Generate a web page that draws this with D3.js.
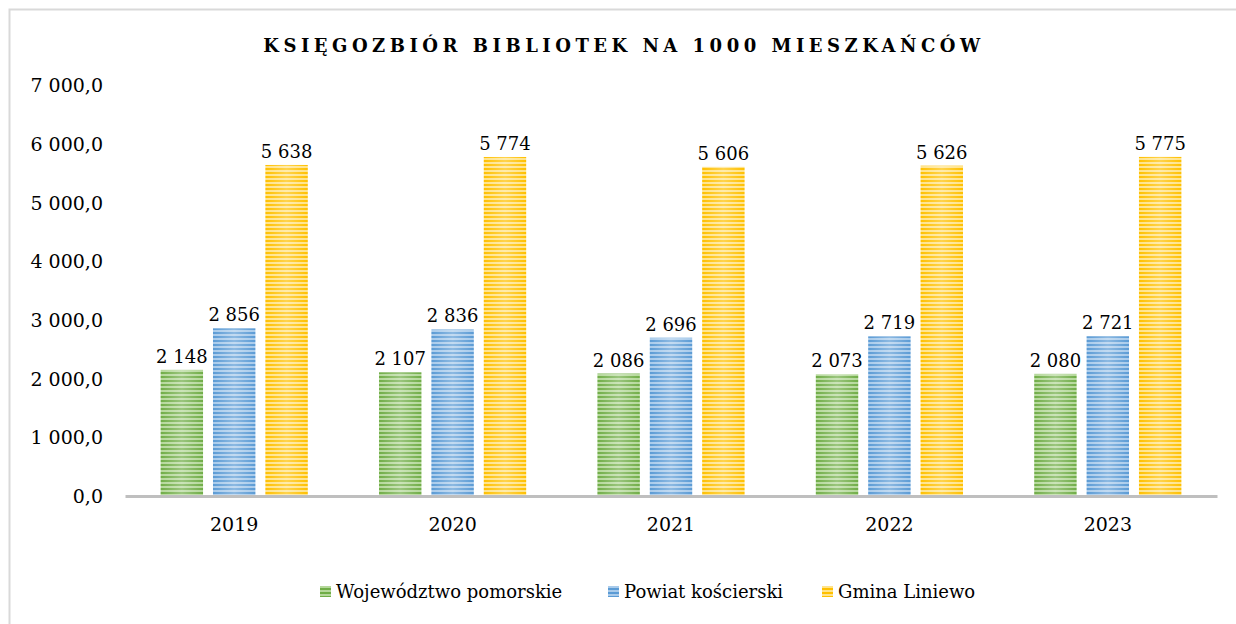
<!DOCTYPE html>
<html>
  <head>
    <meta charset="utf-8" />
    <script src="https://cdn.jsdelivr.net/npm/d3@7"></script>
    <style>
        body { margin: 0; background: #fff; }
        text { font-family: "DejaVu Serif", serif; fill: #000; }
        .title { font-weight: bold; letter-spacing: 4.5px; }
    </style>
  </head>
  <body>
    <script type="text/javascript">

        // chart data
        var years = ["2019", "2020", "2021", "2022", "2023"];
        var seriesNames = ["Województwo pomorskie", "Powiat kościerski", "Gmina Liniewo"];
        var wojewodztwo = [2148, 2107, 2086, 2073, 2080];
        var powiat = [2856, 2836, 2696, 2719, 2721];
        var gmina = [5638, 5774, 5606, 5626, 5775];
        var yTicks = [0, 1000, 2000, 3000, 4000, 5000, 6000, 7000];
        var colors = ["#70ad47", "#5b9bd5", "#ffc000"];
        var lights = ["#b5d89b", "#a9cbeb", "#ffe38a"];

        var series = [wojewodztwo, powiat, gmina];

        var width = 1236, height = 624;
        var plotLeft = 125, plotRight = 1217, plotTop = 85, plotBottom = 496;

        var pl = d3.formatLocale({decimal: ",", thousands: " ", grouping: [3]});
        var fTick = pl.format(",.1f"), fVal = pl.format(",d");

        var svg = d3.select("body").append("svg")
            .attr("width", width)
            .attr("height", height);

        var defs = svg.append("defs");

        // striped fill like the original chart
        colors.forEach(function(c, i) {
            var p = defs.append("pattern")
                .attr("id", "stripe" + i)
                .attr("patternUnits", "userSpaceOnUse")
                .attr("width", 8)
                .attr("height", 4);
            p.append("rect").attr("width", 8).attr("height", 4).attr("fill", c);
            p.append("rect").attr("y", 2).attr("width", 8).attr("height", 2).attr("fill", lights[i]);
        });

        var grad = defs.append("linearGradient").attr("id", "shine");
        grad.append("stop").attr("offset", "0%").attr("stop-color", "#fff").attr("stop-opacity", 0);
        grad.append("stop").attr("offset", "50%").attr("stop-color", "#fff").attr("stop-opacity", 0.3);
        grad.append("stop").attr("offset", "100%").attr("stop-color", "#fff").attr("stop-opacity", 0);

        // border
        svg.append("rect")
            .attr("x", 9.5).attr("y", 9.5)
            .attr("width", 1240).attr("height", 640)
            .attr("fill", "none")
            .attr("stroke", "#d9d9d9")
            .attr("stroke-width", 2);

        var x = d3.scaleBand().domain(years).range([plotLeft, plotRight]);
        var x1 = d3.scaleBand().domain([0, 1, 2]).range([0, x.bandwidth()]).paddingInner(0.19).paddingOuter(0.68);
        var y = d3.scaleLinear().domain([0, 7000]).range([plotBottom, plotTop]);

        svg.append("text")
            .attr("class", "title")
            .attr("x", 624).attr("y", 52)
            .attr("text-anchor", "middle")
            .style("font-size", "18px")
            .text("KSIĘGOZBIÓR BIBLIOTEK NA 1000 MIESZKAŃCÓW");

        // y axis labels
        var yAxis = d3.axisLeft(y).tickValues(yTicks).tickFormat(fTick).tickSize(0).tickPadding(0);
        svg.append("g")
            .attr("transform", "translate(103,0)")
            .call(yAxis)
            .call(function(g) {
                g.select(".domain").remove();
                g.selectAll("text").style("font-size", "19px").attr("font-family", null).attr("dy", "0.35em");
            });

        var groups = svg.selectAll("g.year")
            .data(years)
            .enter().append("g")
            .attr("class", "year")
            .attr("transform", function(d) { return "translate(" + x(d) + ",0)"; });

        function rows(d, i) { return series.map(function(s, k) { return {k: k, v: s[i]}; }); }

        groups.selectAll("rect.bar")
            .data(rows)
            .enter().append("rect")
            .attr("class", "bar")
            .attr("x", function(d) { return x1(d.k); })
            .attr("y", function(d) { return y(d.v); })
            .attr("width", x1.bandwidth())
            .attr("height", function(d) { return plotBottom - y(d.v); })
            .attr("fill", function(d) { return "url(#stripe" + d.k + ")"; });

        groups.selectAll("rect.shine")
            .data(rows)
            .enter().append("rect")
            .attr("class", "shine")
            .attr("x", function(d) { return x1(d.k); })
            .attr("y", function(d) { return y(d.v); })
            .attr("width", x1.bandwidth())
            .attr("height", function(d) { return plotBottom - y(d.v); })
            .attr("fill", "url(#shine)");

        groups.selectAll("text.val")
            .data(rows)
            .enter().append("text")
            .attr("class", "val")
            .attr("x", function(d) { return x1(d.k) + x1.bandwidth() / 2; })
            .attr("y", function(d) { return y(d.v) - 7; })
            .attr("text-anchor", "middle")
            .style("font-size", "18px")
            .text(function(d) { return fVal(d.v); });

        // x axis
        var xAxis = d3.axisBottom(x).tickSize(0).tickPadding(22);
        svg.append("g")
            .attr("transform", "translate(0," + plotBottom + ")")
            .call(xAxis)
            .call(function(g) {
                g.select(".domain").attr("stroke", "#bfbfbf").attr("stroke-width", 3);
                g.selectAll("text").style("font-size", "19px").attr("font-family", null);
            });

        // legend
        var legendX = [320, 608, 822];
        var legend = svg.selectAll("g.legend")
            .data(seriesNames)
            .enter().append("g")
            .attr("class", "legend")
            .attr("transform", function(d, i) { return "translate(" + legendX[i] + ",592)"; });

        legend.append("rect")
            .attr("x", 0).attr("y", -6)
            .attr("width", 11).attr("height", 11)
            .attr("fill", function(d, i) { return "url(#stripe" + i + ")"; });

        legend.append("text")
            .attr("x", 16).attr("dy", "0.35em")
            .style("font-size", "18px")
            .text(function(d) { return d; });

    </script>
  </body>
</html>
